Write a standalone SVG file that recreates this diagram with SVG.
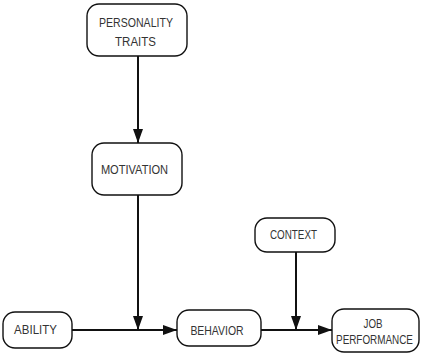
<svg xmlns="http://www.w3.org/2000/svg" width="421" height="354" viewBox="0 0 421 354">
<style>
.box{fill:#fff;stroke:#111;stroke-width:1.4}
.lbl{font-family:"Liberation Sans",Arial,sans-serif;font-size:12.5px;fill:#333;text-anchor:middle;dominant-baseline:central}
.con{stroke:#111;stroke-width:2;fill:none}
</style>
<defs>
<marker id="ah" viewBox="0 0 14 10" refX="14" refY="5" markerWidth="14" markerHeight="10" markerUnits="userSpaceOnUse" orient="auto">
<path d="M0,0 L14,5 L0,10 Z" fill="#111"/>
</marker>
</defs>
<rect width="421" height="354" fill="#fff"/>
<g id="connectors">
<line class="con" x1="138" y1="56" x2="138" y2="143" marker-end="url(#ah)"/>
<line class="con" x1="138" y1="195" x2="138" y2="330" marker-end="url(#ah)"/>
<line class="con" x1="72" y1="330" x2="177" y2="330" marker-end="url(#ah)"/>
<line class="con" x1="296" y1="252" x2="296" y2="330" marker-end="url(#ah)"/>
<line class="con" x1="261" y1="330" x2="332" y2="330" marker-end="url(#ah)"/>
</g>
<g id="personality">
<rect class="box" x="87" y="4" width="100" height="52" rx="12"/>
<text class="lbl" transform="translate(136,23) scale(0.846,1)">PERSONALITY</text>
<text class="lbl" transform="translate(135.5,42) scale(0.92,1)">TRAITS</text>
</g>
<g id="motivation">
<rect class="box" x="92" y="143" width="90" height="52" rx="12"/>
<text class="lbl" transform="translate(134.5,170) scale(0.887,1)">MOTIVATION</text>
</g>
<g id="ability">
<rect class="box" x="3" y="312" width="69" height="36" rx="12"/>
<text class="lbl" transform="translate(35.5,330) scale(0.92,1)">ABILITY</text>
</g>
<g id="behavior">
<rect class="box" x="177" y="310" width="84" height="36" rx="12"/>
<text class="lbl" transform="translate(217,331) scale(0.836,1)">BEHAVIOR</text>
</g>
<g id="context">
<rect class="box" x="255" y="218" width="80" height="34" rx="12"/>
<text class="lbl" transform="translate(293.5,235) scale(0.787,1)">CONTEXT</text>
</g>
<g id="job">
<rect class="box" x="332" y="309" width="87" height="43" rx="12"/>
<text class="lbl" transform="translate(373,324) scale(0.78,1)">JOB</text>
<text class="lbl" transform="translate(374.5,340) scale(0.792,1)">PERFORMANCE</text>
</g>
</svg>
